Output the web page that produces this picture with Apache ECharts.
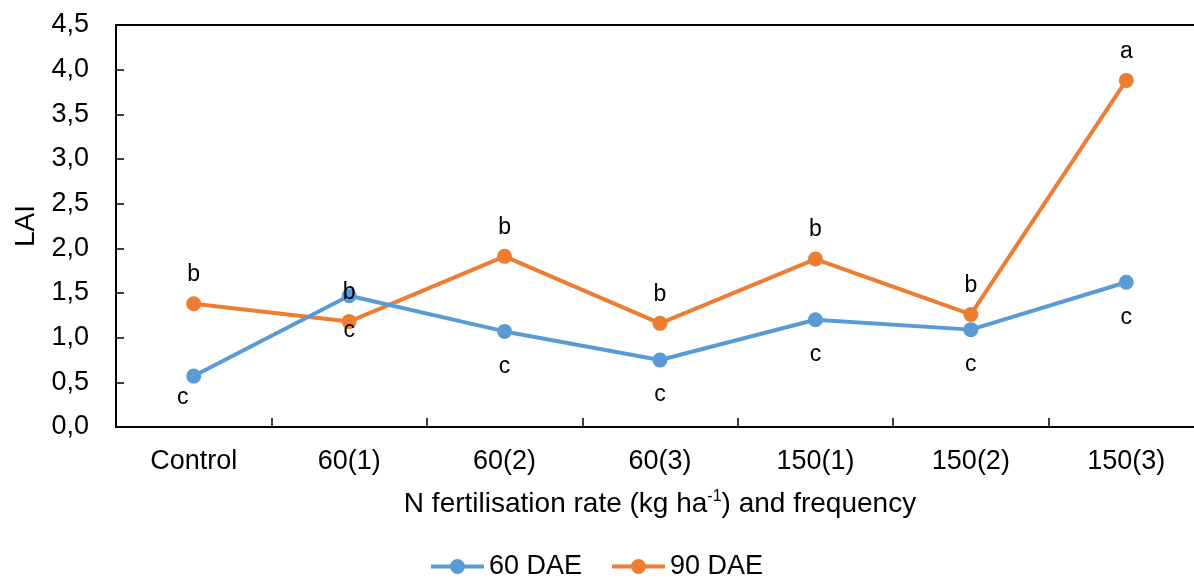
<!DOCTYPE html>
<html>
<head>
<meta charset="utf-8">
<script src="https://cdn.jsdelivr.net/npm/echarts@6/dist/echarts.min.js"></script>
<style>
  html, body { margin: 0; padding: 0; background: #fff; }
  #chart { width: 1194px; height: 578px; }
</style>
</head>
<body>
<div id="chart"></div>
<script>
// Treatments: N rate (kg/ha) with number of applications
const categories = ['Control', '60(1)', '60(2)', '60(3)', '150(1)', '150(2)', '150(3)'];

// Leaf area index at two sampling dates
const lai60 = [0.57, 1.47, 1.07, 0.75, 1.20, 1.09, 1.62];
const lai90 = [1.38, 1.18, 1.91, 1.16, 1.88, 1.26, 3.88];

// Mean separation letters
const letters60 = ['c', 'b', 'c', 'c', 'c', 'c', 'c'];
const letters90 = ['b', 'c', 'b', 'b', 'b', 'b', 'a'];

const yTicks = { min: 0, max: 4.5, interval: 0.5 };

const FONT = '"Liberation Sans", Arial, sans-serif';
const BLUE = '#5B9BD5';
const ORANGE = '#ED7D31';

// Individual label placements where the letters would collide
const labelTweaks60 = {
  0: { position: 'bottom', distance: 3, offset: [-11, 0] },
  1: { position: 'inside', offset: [0, -3] }
};
const labelTweaks90 = {
  1: { position: 'inside', offset: [0, 9] }
};

function buildData(values, letters, tweaks) {
  return values.map((v, i) => {
    const item = { value: v, letter: letters[i] };
    if (tweaks[i]) item.label = tweaks[i];
    return item;
  });
}

const labelBase = {
  show: true,
  color: '#000',
  fontFamily: FONT,
  fontSize: 23,
  formatter: p => p.data.letter
};

const chart = echarts.init(document.getElementById('chart'), null, { renderer: 'canvas' });

chart.setOption({
  animation: false,
  backgroundColor: '#fff',
  textStyle: { fontFamily: FONT },
  // the plot runs a little past the right edge of the canvas
  grid: {
    left: 116, width: 1088, top: 25, bottom: 151,
    containLabel: false,
    outerBoundsMode: 'none'
  },
  legend: {
    top: 553,
    left: 'center',
    padding: 0,
    itemWidth: 53,
    itemHeight: 15,
    itemGap: 30,
    icon: 'path://M0,5.5 L53,5.5 L53,9.5 L0,9.5 Z M19,7.5 A7.5,7.5 0 1,1 34,7.5 A7.5,7.5 0 1,1 19,7.5 Z',
    textStyle: { fontFamily: FONT, fontSize: 27, color: '#000' },
    data: ['60 DAE', '90 DAE']
  },
  xAxis: [
    {
      type: 'category',
      data: categories,
      boundaryGap: true,
      axisLine: { lineStyle: { color: '#000', width: 2 } },
      axisTick: { show: true, inside: true, length: 9, lineStyle: { color: '#000', width: 1.5 } },
      axisLabel: { color: '#000', fontFamily: FONT, fontSize: 27, margin: 21 },
      name: '{t|N fertilisation rate (kg ha}{s|-1}{t|) and frequency}',
      nameLocation: 'middle',
      nameGap: 62,
      nameTextStyle: {
        rich: {
          t: { fontFamily: FONT, fontSize: 28, color: '#000' },
          s: { fontFamily: FONT, fontSize: 16, color: '#000', verticalAlign: 'top', padding: [0, 0, 14, 0] }
        }
      }
    },
    {
      type: 'category',
      data: categories,
      position: 'top',
      axisLine: { show: true, lineStyle: { color: '#000', width: 2 } },
      axisTick: { show: false },
      axisLabel: { show: false }
    }
  ],
  yAxis: {
    type: 'value',
    min: yTicks.min,
    max: yTicks.max,
    interval: yTicks.interval,
    axisLine: { show: true, lineStyle: { color: '#000', width: 2 } },
    axisTick: { show: true, inside: true, length: 8, lineStyle: { color: '#000', width: 1.5 } },
    splitLine: { show: false },
    axisLabel: {
      color: '#000',
      fontFamily: FONT,
      fontSize: 27,
      margin: 27,
      formatter: v => v.toFixed(1).replace('.', ',')
    },
    name: 'LAI',
    nameLocation: 'middle',
    nameGap: 76,
    nameTextStyle: { fontFamily: FONT, fontSize: 28, color: '#000' }
  },
  series: [
    {
      name: '60 DAE',
      type: 'line',
      data: buildData(lai60, letters60, labelTweaks60),
      color: BLUE,
      symbol: 'circle',
      symbolSize: 15,
      lineStyle: { width: 4, color: BLUE },
      itemStyle: { color: BLUE },
      label: Object.assign({}, labelBase, { position: 'bottom', distance: 16 }),
      z: 3
    },
    {
      name: '90 DAE',
      type: 'line',
      data: buildData(lai90, letters90, labelTweaks90),
      color: ORANGE,
      symbol: 'circle',
      symbolSize: 15,
      lineStyle: { width: 4, color: ORANGE },
      itemStyle: { color: ORANGE },
      label: Object.assign({}, labelBase, { position: 'top', distance: 10 }),
      z: 2
    }
  ]
});
</script>
</body>
</html>
